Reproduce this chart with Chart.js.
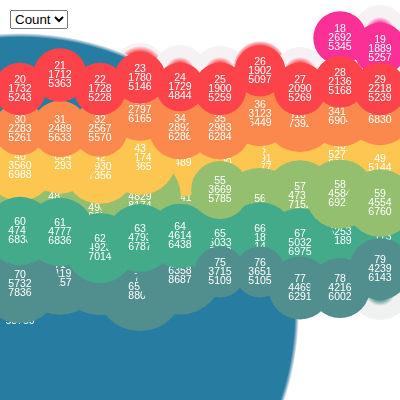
<!DOCTYPE html>
<html lang="en">

<head>
  <meta charset="UTF-8" />
  <title>Bubbles</title>
  <script src="https://cdn.jsdelivr.net/npm/chart.js@4.4.1/dist/chart.umd.min.js"></script>
  <style>
    body { margin: 0; background: #fff; }
    #chart { position: absolute; left: 0; top: 0; }
    #metric { position: absolute; left: 10px; top: 10px; font: 13.33px "Liberation Sans", Arial, sans-serif; }
  </style>
</head>

<body>
  <canvas id="chart" width="400" height="400"></canvas>
  <select id="metric">
    <option>Count</option>
  </select>

  <script>
    const ids = [18, 19,
      20, 21, 22, 23, 24, 25, 26, 27, 28, 29,
      30, 31, 32, 33, 34, 35, 36, 37, 38, 39,
      40, 41, 42, 43, 44, 45, 46, 47, 48, 49,
      50, 51, 52, 53, 54, 55, 56, 57, 58, 59,
      60, 61, 62, 63, 64, 65, 66, 67, 68, 69,
      70, 71, 72, 73, 74, 75, 76, 77, 78, 79,
      80];
    const minors = [2692, 1889,
      1732, 1712, 1728, 1780, 1729, 1900, 1902, 2090, 2136, 2218,
      2283, 2489, 2567, 2797, 2892, 2983, 3123, 3188, 3415, 3500,
      3560, 3604, 3930, 4174, 4200, 4100, 4091, 5000, 5277, 5144,
      4700, 4825, 4980, 4829, 4900, 3669, 4800, 4738, 4584, 4554,
      4748, 4777, 4923, 4793, 4614, 5033, 5188, 5032, 5253, 5173,
      5732, 5119, 5500, 6565, 6358, 3715, 3651, 4469, 4216, 4239,
      30000];
    const counts = [5345, 5257,
      5243, 5363, 5228, 5146, 4844, 5259, 5097, 5269, 5168, 5239,
      5261, 5633, 5570, 6165, 6286, 6284, 6449, 7392, 6904, 6830,
      6988, 7293, 7356, 7365, 8489, 8600, 8777, 8900, 8000, 7500,
      8500, 8350, 8250, 8174, 8641, 5785, 7997, 7152, 6924, 6760,
      6838, 6836, 7014, 6787, 6438, 7050, 7140, 6975, 7189, 7300,
      7836, 8157, 9000, 8806, 8687, 5109, 5105, 6291, 6002, 6143,
      55750];
    const levels = [0.95, 1.225,
      2.225, 1.875, 2.225, 1.95, 2.175, 2.225, 1.775, 2.225, 2.05, 2.225,
      3.225, 3.225, 3.225, 2.75, 3.2, 3.2, 2.85, 2.875, 2.8, 2.775,
      4.15, 3.925, 4.175, 3.95, 3.85, 3.85, 3.975, 3.875, 3.875, 4.2,
      5.125, 4.925, 5.2, 4.925, 4.725, 4.75, 5.2, 4.9, 4.85, 5.075,
      5.775, 5.8, 6.2, 5.95, 5.9, 6.075, 5.95, 6.075, 5.8, 5.925,
      7.1, 6.85, 6.75, 7.175, 6.775, 6.8, 6.8, 7.2, 7.2, 6.725,
      7.8];

    // the pale ones behind, no text left on them
    const fadeIds = [13, 14, 15, 16, 17, 19, 89];
    const fadeCounts = [5400, 5400, 5400, 5400, 5400, 5400, 6000];
    const fadeLevels = [1.75, 1.8, 1.825, 1.7, 1.85, 0.8, 7.25];
    const fadeCore = [18, 9, 10, 22, 11, 9, 10];

    const rowColors = {
      1: "#fb3097", 2: "#fc4349", 3: "#fb884d", 4: "#fcc651",
      5: "#93bf6f", 6: "#43aa8a", 7: "#518f8e", 8: "#277da1",
    };
    const countPerPixel = 200;

    function toPoints(idList, countList, levelList, extra) {
      return idList.map((id, i) => ({
        x: id % 10,
        y: levelList[i],
        r: countList[i] / countPerPixel,
        id: id,
        lines: extra ? [id, extra[i], countList[i]] : null,
        core: extra ? 0 : fadeCore[i],
      }));
    }

    // biggest first so the small bubbles and their text end up on top
    const mainPoints = toPoints(ids, counts, levels, minors).sort((a, b) => b.r - a.r);
    const fadePoints = toPoints(fadeIds, fadeCounts, fadeLevels);

    function radial(context, from, to, inner, outer) {
      const chart = context.chart;
      const p = context.raw;
      const px = chart.scales.x.getPixelForValue(p.x);
      const py = chart.scales.y.getPixelForValue(p.y);
      // scales have no size yet on the first pass
      if (!isFinite(px) || !isFinite(py)) return to;
      const g = chart.ctx.createRadialGradient(px, py, 0, px, py, p.r);
      g.addColorStop(0, from);
      g.addColorStop(inner / p.r, from);
      g.addColorStop(Math.min(outer / p.r, 1), to);
      g.addColorStop(1, to);
      return g;
    }

    function mainColor(context) {
      const p = context.raw;
      if (!p) return "#fff";
      const color = rowColors[Math.floor(p.id / 10)];
      if (p.id === 80) return radial(context, color, "#f6f1f3", p.r - 4, p.r);
      return color;
    }

    function fadeColor(context) {
      const p = context.raw;
      if (!p) return "#fff";
      const pale = p.id === 89 ? "#f0f2f2" : "#f6f1f3";
      return radial(context, rowColors[p.id === 89 ? 7 : p.id === 19 ? 1 : 2], pale, p.core, p.core + 6);
    }

    class LabelledBubbleController extends Chart.BubbleController {
      draw() {
        const ctx = this.chart.ctx;
        const area = this.chart.chartArea;
        this.getMeta().data.forEach((el, i) => {
          el.draw(ctx, area);
          const lines = this.getDataset().data[i].lines;
          if (!lines) return;
          ctx.save();
          ctx.fillStyle = "#fff";
          ctx.font = '10.5px "Liberation Sans", Arial, sans-serif';
          ctx.textAlign = "center";
          ctx.textBaseline = "middle";
          lines.forEach((t, n) => ctx.fillText(String(t), el.x, el.y + (n - 1) * 9));
          ctx.restore();
        });
      }
    }
    LabelledBubbleController.id = "labelledBubble";
    LabelledBubbleController.defaults = Chart.BubbleController.defaults;
    Chart.register(LabelledBubbleController);

    new Chart(document.getElementById("chart").getContext("2d"), {
      type: "labelledBubble",
      data: {
        datasets: [
          { data: mainPoints, backgroundColor: mainColor, borderWidth: 0, borderColor: "rgba(0,0,0,0)", clip: false },
          { data: fadePoints, backgroundColor: fadeColor, borderWidth: 0, borderColor: "rgba(0,0,0,0)", clip: false },
        ],
      },
      options: {
        responsive: false,
        animation: false,
        events: [],
        layout: { padding: 0, autoPadding: false },
        plugins: { legend: { display: false }, tooltip: { enabled: false } },
        scales: {
          x: { type: "linear", display: false, min: -0.5, max: 9.5 },
          y: { type: "linear", display: false, min: 0, max: 10, reverse: true },
        },
      },
    });
  </script>
</body>

</html>
